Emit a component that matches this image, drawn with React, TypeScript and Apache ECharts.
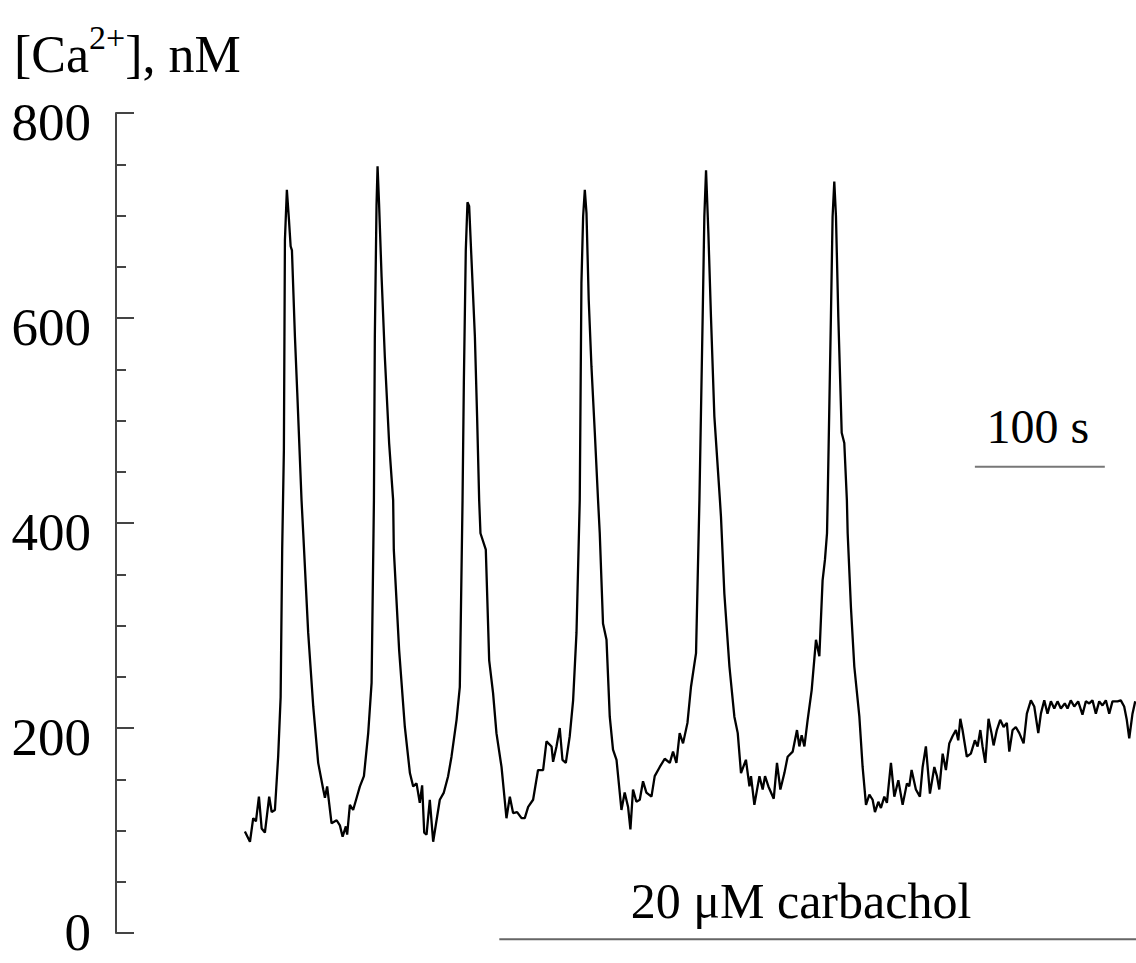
import React, { useEffect, useRef } from "react";
import * as echarts from "echarts";

// Time (s) of each sample and free cytosolic Ca2+ (nM)
const timeS = [
  99.2, 103.1, 105.6, 107.7, 110.0, 112.1, 114.6, 117.9, 119.8, 122.3, 124.8, 126.7, 127.9, 129.2, 130.0, 131.5,
  133.1, 134.4, 135.4, 137.7, 139.5, 142.8, 144.1, 147.9, 151.8, 155.6, 159.5, 160.8, 162.5, 165.9, 169.8, 172.3,
  174.4, 176.9, 177.9, 180.0, 182.5, 185.2, 187.7, 190.8, 194.1, 196.7, 198.5, 199.2, 200.5, 201.3, 202.5, 204.4,
  206.9, 210.2, 213.3, 213.8, 217.9, 222.3, 226.2, 228.7, 231.3, 233.8, 235.6, 237.2, 239.0, 241.5, 244.1, 246.7,
  249.2, 252.3, 255.6, 258.2, 262.1, 264.6, 266.7, 267.7, 269.2, 270.5, 271.8, 273.6, 276.2, 277.9, 279.5, 280.5,
  284.6, 287.2, 290.2, 292.8, 296.7, 300.5, 303.1, 305.6, 308.7, 312.1, 314.6, 317.2, 321.0, 324.8, 328.7, 331.3,
  335.2, 336.4, 339.0, 341.5, 343.6, 346.2, 349.2, 351.8, 354.4, 356.9, 357.5, 358.2, 359.5, 360.8, 362.1, 363.8,
  365.9, 368.5, 371.0, 372.3, 374.8, 377.5, 380.0, 382.5, 385.2, 389.0, 391.5, 394.1, 395.9, 397.9, 400.5, 403.1,
  405.6, 408.2, 412.1, 414.6, 418.5, 422.3, 426.2, 428.7, 431.3, 433.8, 436.4, 439.8, 442.5, 445.2, 446.4, 449.0,
  451.5, 452.8, 454.1, 455.9, 457.9, 460.5, 464.8, 465.6, 468.2, 472.1, 475.9, 478.5, 481.0, 484.8, 487.5, 488.7,
  491.3, 495.2, 497.7, 499.5, 502.1, 506.2, 508.7, 511.3, 514.4, 516.9, 520.8, 524.1, 525.9, 527.7, 529.8, 532.3,
  535.4, 538.7, 541.3, 543.8, 545.6, 547.2, 547.7, 550.2, 551.5, 552.8, 554.1, 555.9, 558.5, 560.5, 562.5, 563.1,
  565.6, 568.2, 572.1, 574.6, 577.2, 579.8, 582.3, 584.1, 586.7, 588.7, 591.3, 593.3, 596.4, 599.0, 602.1, 605.4,
  608.7, 610.5, 612.3, 615.6, 618.7, 620.8, 623.3, 626.4, 629.8, 631.8, 633.6, 636.2, 638.7, 641.3, 643.8, 646.4,
  648.2, 649.8, 651.5, 654.8, 657.9, 661.0, 663.1, 665.2, 666.9, 669.0, 671.5, 673.8, 675.4, 677.9, 680.5, 683.1,
  685.6, 687.5, 690.0, 692.5, 695.2, 698.5, 701.0, 704.1, 706.7, 709.8, 711.8, 714.4, 716.9, 719.5, 722.1, 724.6,
  727.2, 730.2, 732.3, 734.8, 737.5, 740.5, 743.8, 746.4, 749.0, 751.5, 754.1, 756.7, 759.2, 761.8, 764.4, 766.9,
  770.8, 773.3, 775.9, 777.9, 779.8, 782.3, 784.4,
];

const caNM = [
  99, 89, 112, 109, 133, 102, 98, 133, 118, 120, 172, 230, 374, 471, 676, 725,
  696, 670, 666, 582, 527, 422, 390, 293, 221, 166, 140, 132, 143, 107, 110, 105,
  94, 104, 96, 125, 120, 132, 143, 153, 195, 244, 422, 582, 710, 748, 710, 640,
  562, 478, 422, 374, 276, 201, 156, 143, 146, 127, 144, 98, 96, 130, 89, 110,
  130, 137, 153, 172, 208, 240, 422, 536, 666, 713, 709, 657, 582, 504, 422, 390,
  374, 266, 234, 195, 162, 112, 133, 117, 118, 112, 112, 123, 130, 159, 159, 187,
  182, 167, 182, 200, 169, 166, 192, 227, 293, 422, 520, 634, 699, 725, 702, 618,
  553, 488, 422, 390, 302, 286, 211, 179, 169, 120, 137, 123, 101, 140, 128, 130,
  148, 137, 133, 153, 162, 170, 166, 177, 166, 195, 185, 205, 240, 263, 273, 422,
  601, 699, 744, 683, 601, 504, 422, 406, 331, 260, 211, 195, 156, 169, 143, 153,
  125, 153, 140, 153, 143, 131, 166, 140, 156, 172, 177, 198, 182, 193, 182, 208,
  237, 286, 270, 344, 364, 390, 422, 601, 699, 733, 699, 601, 488, 478, 422, 390,
  318, 260, 211, 162, 125, 135, 130, 118, 128, 122, 133, 127, 166, 133, 149, 125,
  146, 143, 159, 140, 133, 162, 182, 136, 162, 153, 140, 175, 159, 185, 192, 198,
  188, 209, 198, 172, 175, 188, 182, 198, 182, 166, 209, 195, 183, 198, 208, 201,
  205, 177, 198, 201, 195, 185, 214, 227, 221, 195, 214, 227, 214, 226, 219, 226,
  219, 224, 219, 227, 221, 226, 213, 226, 224, 227, 214, 226, 222, 227, 214, 226,
  226, 227, 221, 208, 190, 214, 226,
];

const yTickValues = [0, 200, 400, 600, 800];
const timeRangeS = [0, 785];
const carbacholStartS = 295;
const carbacholLevelNM = -6;
const scaleBarS = [661, 761];
const scaleBarLevelNM = 455;

const FONT = "'Times New Roman', 'Liberation Serif', serif";

export default function App() {
  const ref = useRef<HTMLDivElement>(null);

  useEffect(() => {
    if (!ref.current) return;
    const chart = echarts.init(ref.current, null, { renderer: "svg" });
    chart.setOption({
      animation: false,
      backgroundColor: "#ffffff",
      grid: { left: 116, top: 113, width: 1020, height: 820, containLabel: false },
      xAxis: {
        type: "value",
        min: timeRangeS[0],
        max: timeRangeS[1],
        show: false,
      },
      yAxis: {
        type: "value",
        min: yTickValues[0],
        max: yTickValues[yTickValues.length - 1],
        interval: 200,
        axisLine: { show: true, lineStyle: { color: "#444", width: 2 } },
        axisTick: { show: true, inside: true, length: 18, lineStyle: { color: "#444", width: 2 } },
        minorTick: { show: true, splitNumber: 4, length: 10, lineStyle: { color: "#444", width: 2 } },
        splitLine: { show: false },
        axisLabel: { show: false },
      },
      series: [
        {
          type: "line",
          data: timeS.map((t, i) => [t, caNM[i]]),
          showSymbol: false,
          symbol: "none",
          lineStyle: { color: "#000", width: 2.3 },
          clip: true,
        },
      ],
    });

    const px = (t: number, v: number) => chart.convertToPixel({ gridIndex: 0 }, [t, v]) as number[];
    const [cx0, cy] = px(carbacholStartS, carbacholLevelNM);
    const [cx1] = px(timeRangeS[1] + 5, carbacholLevelNM);
    const [sx0, sy] = px(scaleBarS[0], scaleBarLevelNM);
    const [sx1] = px(scaleBarS[1], scaleBarLevelNM);
    const maxLabelY = chart.getHeight() - 31;

    const tickLabels = yTickValues.map((v) => {
      const [, y] = px(0, v);
      return {
        type: "text",
        x: 91,
        y: Math.min(y + 9, maxLabelY),
        style: {
          text: String(v),
          fontFamily: FONT,
          fontSize: 53,
          fill: "#000",
          align: "right",
          verticalAlign: "middle",
        },
      };
    });

    chart.setOption({
      graphic: [
        ...tickLabels,
        {
          type: "text",
          x: 14,
          y: 50,
          style: {
            text: "{a|[Ca}{s|2+}{a|], nM}",
            fill: "#000",
            verticalAlign: "middle",
            rich: {
              a: { fontFamily: FONT, fontSize: 52, fill: "#000", lineHeight: 60, verticalAlign: "bottom" },
              s: { fontFamily: FONT, fontSize: 34, fill: "#000", lineHeight: 60, verticalAlign: "top" },
            },
          },
        },
        {
          type: "line",
          shape: { x1: sx0, y1: sy, x2: sx1, y2: sy },
          style: { stroke: "#777", lineWidth: 2 },
        },
        {
          type: "text",
          x: (sx0 + sx1) / 2 - 2,
          y: sy - 40,
          style: {
            text: "100 s",
            fontFamily: FONT,
            fontSize: 48,
            fill: "#000",
            align: "center",
            verticalAlign: "middle",
          },
        },
        {
          type: "line",
          shape: { x1: cx0, y1: cy, x2: cx1, y2: cy },
          style: { stroke: "#666", lineWidth: 2 },
        },
        {
          type: "text",
          x: 801,
          y: cy - 38,
          style: {
            text: "20 μM carbachol",
            fontFamily: FONT,
            fontSize: 50,
            fill: "#000",
            align: "center",
            verticalAlign: "middle",
          },
        },
      ],
    });

    return () => chart.dispose();
  }, []);

  return (
    <div
      ref={ref}
      style={{ position: "fixed", left: 0, top: 0, width: 1136, height: 963, background: "#fff" }}
    />
  );
}
